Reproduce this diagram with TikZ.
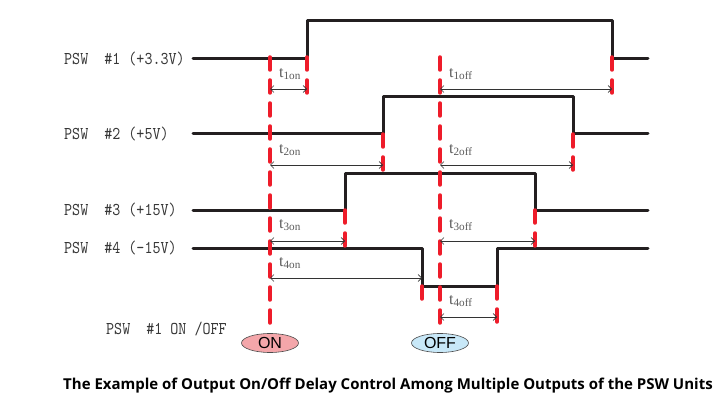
\documentclass[tikz,border=0pt]{standalone}
\usepackage{fontspec}
\usepackage{tikz}
\setmainfont{Liberation Serif}
\newfontfamily\labfont[FakeStretch=0.85]{lmmono10-regular.otf}
\newfontfamily\btnfont{Liberation Sans}
\newfontfamily\capfont{Open Sans}
\usetikzlibrary{arrows.meta, positioning, shapes.geometric, calc}
\definecolor{sigred}{HTML}{EE1C2A}
\definecolor{sigblack}{HTML}{231F20}
\definecolor{labgray}{HTML}{5A5A5A}
\definecolor{onpink}{HTML}{F4A6AA}
\definecolor{offblue}{HTML}{C8E8F8}

\begin{document}
\begin{tikzpicture}[x=1pt, y=-1pt, >={Straight Barb[length=3.5pt, width=7pt]},
  signal/.style={draw=sigblack, line width=3pt, line cap=round, line join=round},
  redmark/.style={draw=sigred, line width=3.5pt, line cap=round, dash pattern=on 13pt off 10pt},
  delay/.style={<->, draw=black!80, line width=0.6pt},
  tlab/.style={anchor=west, text=labgray, inner sep=0pt, font=\fontsize{16}{18}\selectfont},
  psw/.style={anchor=west, text=labgray!60!black, inner sep=0pt, font=\labfont\fontsize{18}{20}\selectfont},
  btn/.style={ellipse, draw=black!70, line width=0.6pt, minimum width=57pt, minimum height=19pt,
    inner sep=0pt, font=\btnfont\fontsize{16}{18}\selectfont}]
  \useasboundingbox (0,0) rectangle (716,412);

  % Vystupy
  \node[psw] (lab1) at (64,59) {PSW\ \ \#1 (+3.3V)};
  \node[psw] (lab2) at (64,134) {PSW\ \ \#2 (+5V)};
  \node[psw] (lab3) at (64,210) {PSW\ \ \#3 (+15V)};
  \node[psw] (lab4) at (64,248) {PSW\ \ \#4 (-15V)};
  \node[psw] (swlab) at (106,329) {PSW\ \ \#1 ON /OFF};

  % Prubehy
  \draw[signal] (193,59) -- (307,59) -- (307,21) -- (612,21) -- (612,59) -- (648,59);
  \draw[signal] (193,134) -- (383,134) -- (383,97) -- (573,97) -- (573,134) -- (648,134);
  \draw[signal] (193,210) -- (345,210) -- (345,173) -- (535,173) -- (535,210) -- (648,210);
  \draw[signal] (193,248) -- (422,248) -- (422,286) -- (497,286) -- (497,248) -- (648,248);

  % Tlacitka
  \node[btn, fill=onpink] (onbtn) at (270,343) {ON};
  \node[btn, fill=offblue] (offbtn) at (440,343) {OFF};

  % Konce sipek
  \coordinate (a1on) at (307,89);  \coordinate (a1off) at (612,89);
  \coordinate (a2on) at (383,165); \coordinate (a2off) at (573,165);
  \coordinate (a3on) at (345,241); \coordinate (a3off) at (535,241);
  \coordinate (a4on) at (422,278); \coordinate (a4off) at (497,317);

  % Cervene znacky
  \draw[redmark] (onbtn |- 0,57) -- ($(onbtn.north)+(0,-10)$);
  \draw[redmark] (offbtn |- 0,57) -- ($(offbtn.north)+(0,-10)$);
  \draw[redmark] (a1on |- 0,57) -- (a1on |- 0,98);
  \draw[redmark] (a1off |- 0,57) -- (a1off |- 0,98);
  \draw[redmark] (a2on |- 0,134) -- (a2on |- 0,173);
  \draw[redmark] (a2off |- 0,134) -- (a2off |- 0,173);
  \draw[redmark] (a3on |- 0,210) -- (a3on |- 0,250);
  \draw[redmark] (a3off |- 0,210) -- (a3off |- 0,250);
  \draw[redmark] (a4on |- 0,286) -- (a4on |- 0,300);
  \draw[redmark] (a4off |- 0,286) -- (a4off |- 0,325);

  % Zpozdeni
  \draw[delay] (onbtn |- a1on) -- (a1on);
  \draw[delay] (offbtn |- a1off) -- (a1off);
  \draw[delay] (onbtn |- a2on) -- (a2on);
  \draw[delay] (offbtn |- a2off) -- (a2off);
  \draw[delay] (onbtn |- a3on) -- (a3on);
  \draw[delay] (offbtn |- a3off) -- (a3off);
  \draw[delay] (onbtn |- a4on) -- (a4on);
  \draw[delay] (offbtn |- a4off) -- (a4off);
  \node[tlab] (t1on) at (279,74) {t\textsubscript{1on}};
  \node[tlab] (t1off) at (449,74) {t\textsubscript{1off}};
  \node[tlab] (t2on) at (279,150) {t\textsubscript{2on}};
  \node[tlab] (t2off) at (449,150) {t\textsubscript{2off}};
  \node[tlab] (t3on) at (279,225) {t\textsubscript{3on}};
  \node[tlab] (t3off) at (449,225) {t\textsubscript{3off}};
  \node[tlab] (t4on) at (279,263) {t\textsubscript{4on}};
  \node[tlab] (t4off) at (449,301) {t\textsubscript{4off}};

  % Popisek
  \node[font=\capfont\bfseries\fontsize{15}{18}\selectfont] (cap) at (388,386)
    {The Example of Output On/Off Delay Control Among Multiple Outputs of the PSW Units};
\end{tikzpicture}
\end{document}
